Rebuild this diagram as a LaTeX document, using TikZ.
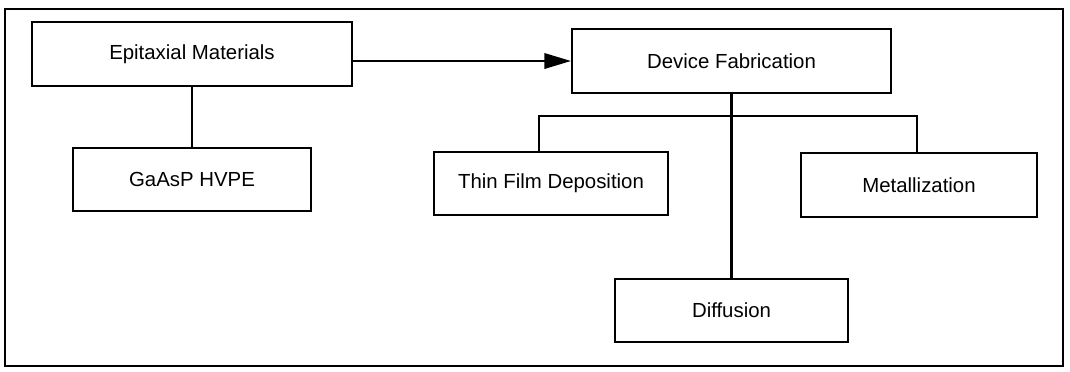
\documentclass[tikz,border=0pt]{standalone}
\usepackage{fontspec}
\setmainfont{Liberation Sans}
\usepackage{tikz}
\usetikzlibrary{arrows.meta,positioning,calc}
\tikzset{
  arr/.style={-{Triangle[length=19pt,width=11pt]},line width=1.6pt},
  lnk/.style={line width=1.6pt},
  box/.style={rectangle,draw,line width=1.4pt,text centered,
    font=\fontsize{14.5}{16}\selectfont,inner sep=2pt},
  frm/.style={draw,line width=1.3pt},
}
\begin{document}
\begin{tikzpicture}[
  x=0.025cm,y=-0.025cm,
]
\useasboundingbox (0,0) rectangle (1070,371);
\draw[frm] (5,9) rectangle (1063,366);

% EPITAXIAL MATERIALS (left-top)
\node[box,minimum width=8cm,minimum height=1.6cm] (epi) at (192,54) {Epitaxial Materials};
\node[box,minimum width=5.95cm,minimum height=1.575cm] (hvpe) at (192,179.5) {GaAsP HVPE};

% DEVICE FABRICATION (right-top)
\node[box,minimum width=7.975cm,minimum height=1.6cm] (dev) at (731.5,61) {Device Fabrication};
\node[box,minimum width=5.85cm,minimum height=1.575cm] (thin) at (551,183.5) {Thin Film Deposition};
\node[box,minimum width=5.9cm,minimum height=1.6cm] (met) at (919,185) {Metallization};
\node[box,minimum width=5.8cm,minimum height=1.575cm] (diff) at (731.5,310.5) {Diffusion};

% Branch points
\coordinate (tl) at (539,116);
\coordinate (tr) at (917,116);

% Relations
\draw[arr] (dev.west -| epi.east) -- (dev.west);
\draw[lnk] (epi.south) -- (hvpe.north);
\draw[lnk] (dev.south) -- (diff.north);
\draw[lnk] (thin.north -| tl) -- (tl) -- (tr) -- (met.north -| tr);
\end{tikzpicture}
\end{document}
